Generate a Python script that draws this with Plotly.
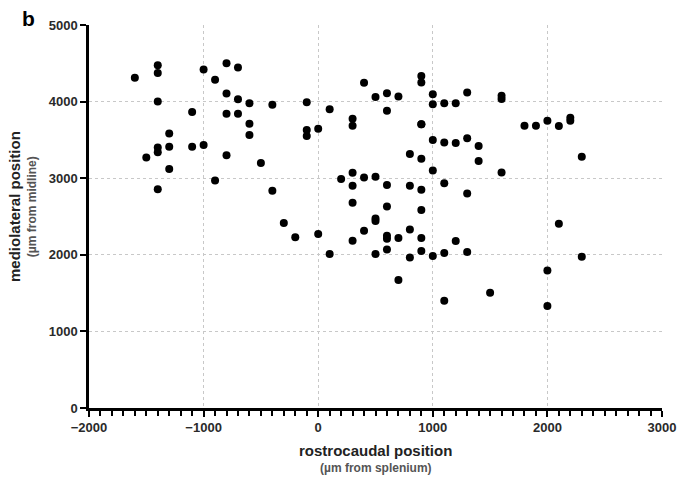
import plotly.graph_objects as go

# rostrocaudal position (µm from splenium)
x_vals = [
    -1600, -1500,
    -1400, -1400, -1400, -1400, -1400, -1400,
    -1300, -1300, -1300,
    -1100, -1100,
    -1000, -1000,
    -900, -900,
    -800, -800, -800, -800,
    -700, -700, -700,
    -600, -600, -600,
    -500, -400, -400, -300, -200,
    -100, -100, -100,
    0, 0, 100, 100,
    200, 300, 300, 300, 300, 300, 300,
    400, 400, 400,
    500, 500, 500, 500, 500,
    600, 600, 600, 600, 600, 600, 600,
    700, 700, 700,
    800, 800, 800, 800,
    900, 900, 900, 900, 900, 900, 900, 900, 900,
    1000, 1000, 1000, 1000, 1000,
    1100, 1100, 1100, 1100, 1100,
    1200, 1200, 1200,
    1300, 1300, 1300, 1300,
    1400, 1400,
    1500,
    1600, 1600, 1600,
    1800, 1900,
    2000, 2000, 2000,
    2100, 2100,
    2200, 2200,
    2300, 2300,
]

# mediolateral position (µm from midline)
y_vals = [
    4310, 3270,
    4475, 4375, 4000, 3400, 3340, 2855,
    3585, 3410, 3120,
    3865, 3410,
    4420, 3435,
    4285, 2970,
    4500, 4105, 3840, 3300,
    4445, 4030, 3840,
    3980, 3710, 3565,
    3200, 3960, 2835, 2415, 2230,
    3990, 3630, 3550,
    3645, 2270, 3900, 2010,
    2990, 3775, 3685, 3070, 2900, 2680, 2185,
    4245, 3010, 2315,
    4060, 3020, 2475, 2440, 2010,
    4110, 3880, 2910, 2630, 2250, 2210, 2070,
    4065, 2220, 1670,
    3315, 2900, 2330, 1965,
    4335, 4250, 3705, 3255, 2850, 2585, 2220, 2050, 3705,
    4095, 3965, 3500, 3100, 1985,
    3980, 3465, 2935, 2025, 1400,
    3980, 3460, 2180,
    4120, 3520, 2800, 2035,
    3420, 3225,
    1505,
    4075, 4035, 3075,
    3685, 3685,
    3750, 1795, 1330,
    3680, 2405,
    3790, 3750,
    3280, 1975,
]

x_range = [-2000, 3000]
y_range = [0, 5000]

fig = go.Figure()
fig.add_trace(go.Scatter(
    x=x_vals, y=y_vals, mode="markers",
    marker=dict(color="black", size=8, line=dict(width=0)),
    showlegend=False, hoverinfo="skip",
))

tick_font = dict(family="Liberation Sans, Arial, sans-serif", size=13, color="#2a2a2a", weight="bold")
grid_col = "#c8c8c8"

fig.update_xaxes(
    range=x_range, dtick=1000, tick0=0, automargin=False,
    showline=True, linecolor="black", linewidth=2.5,
    ticks="outside", ticklen=6, tickwidth=2, tickcolor="black",
    showgrid=True, gridcolor=grid_col, griddash="dot", gridwidth=1,
    zeroline=False, tickfont=tick_font,
    minor=dict(dtick=100, tick0=0, ticks="outside", ticklen=5, tickwidth=1.5, tickcolor="black", showgrid=False),
)
fig.update_yaxes(
    range=y_range, dtick=1000, tick0=0, automargin=False,
    showline=True, linecolor="black", linewidth=2.5,
    ticks="outside", ticklen=6, tickwidth=2, tickcolor="black",
    showgrid=True, gridcolor=grid_col, griddash="dot", gridwidth=1,
    zeroline=False, tickfont=tick_font,
)

title_font = dict(family="Liberation Sans, Arial, sans-serif", size=15, color="#222222", weight="bold")
sub_font = dict(family="Liberation Sans, Arial, sans-serif", size=12, color="#555555", weight="bold")

annotations = [
    dict(text="rostrocaudal position", x=0.5, y=-0.1097, xref="paper", yref="paper",
         xanchor="center", yanchor="middle", showarrow=False, font=title_font),
    dict(text="(µm from splenium)", x=0.5, y=-0.156, xref="paper", yref="paper",
         xanchor="center", yanchor="middle", showarrow=False, font=sub_font),
    dict(text="mediolateral position", x=-0.129, y=0.525, xref="paper", yref="paper",
         xanchor="center", yanchor="middle", showarrow=False, font=title_font, textangle=-90),
    dict(text="(µm from midline)", x=-0.099, y=0.525, xref="paper", yref="paper",
         xanchor="center", yanchor="middle", showarrow=False, font=sub_font, textangle=-90),
    dict(text="b", x=-0.105, y=1.0157, xref="paper", yref="paper",
         xanchor="center", yanchor="middle", showarrow=False,
         font=dict(family="Liberation Sans, Arial, sans-serif", size=21, color="black", weight="bold")),
]

fig.update_layout(
    width=679, height=480,
    margin=dict(l=89, r=17, t=25, b=72),
    plot_bgcolor="white", paper_bgcolor="white",
    annotations=annotations,
)

fig.write_html("out.html")
